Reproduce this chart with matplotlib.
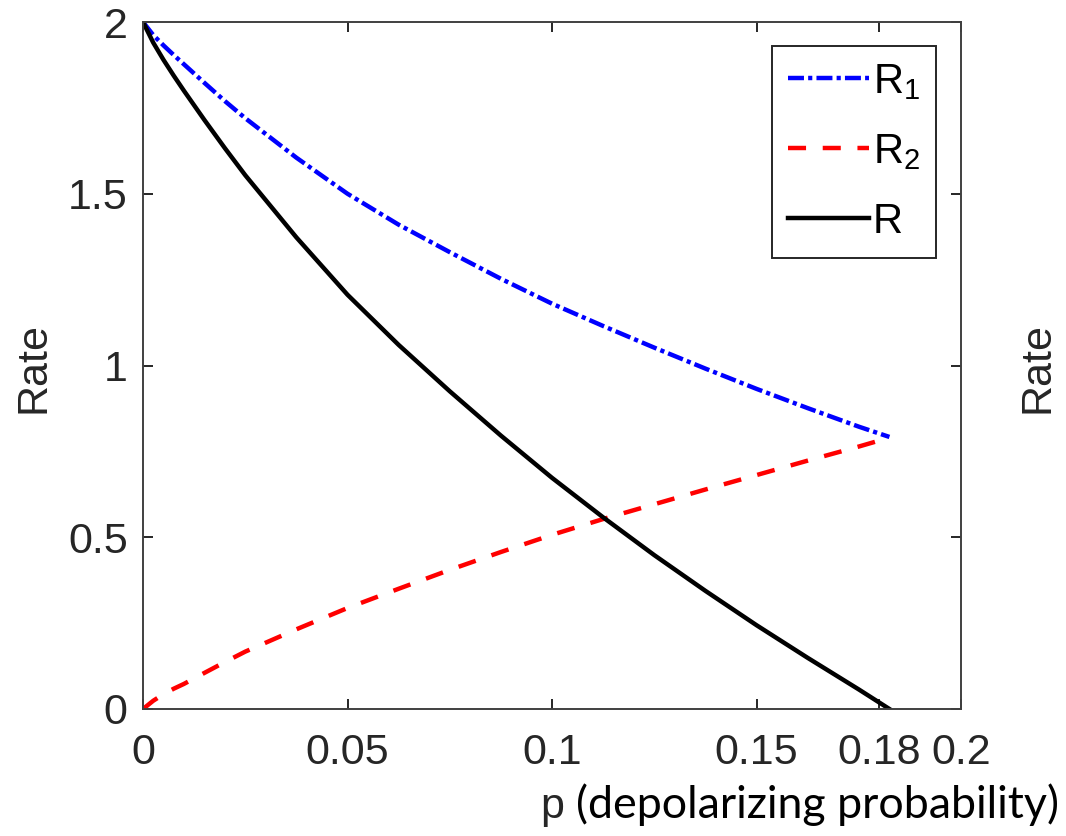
import matplotlib
matplotlib.use("Agg")
import matplotlib.pyplot as plt

plt.rcParams["font.family"] = "Liberation Sans"
plt.rcParams["font.size"] = 31
plt.rcParams["lines.scale_dashes"] = False
plt.rcParams["xtick.direction"] = "in"
plt.rcParams["ytick.direction"] = "in"
plt.rcParams["xtick.top"] = True
plt.rcParams["ytick.right"] = True
plt.rcParams["axes.linewidth"] = 1.4
plt.rcParams["axes.edgecolor"] = "#404040"

# Data
p = [0, 0.0025, 0.005, 0.0075, 0.01, 0.015, 0.02, 0.025, 0.0375, 0.05, 0.0625,
     0.075, 0.0875, 0.1, 0.1125, 0.125, 0.1375, 0.15, 0.1625, 0.175, 0.1825]
r1 = [2.0, 1.962, 1.932, 1.904, 1.877, 1.823, 1.77, 1.72, 1.605, 1.50, 1.41,
      1.33, 1.2525, 1.18, 1.115, 1.052, 0.991, 0.932, 0.876, 0.822, 0.792]
r2 = [0.0, 0.024, 0.043, 0.059, 0.073, 0.105, 0.1365, 0.167, 0.232, 0.294, 0.35,
      0.405, 0.457, 0.507, 0.553, 0.596, 0.639, 0.681, 0.723, 0.764, 0.79]
r = [2.0, 1.94, 1.89, 1.844, 1.80, 1.715, 1.633, 1.554, 1.373, 1.206, 1.06,
     0.925, 0.796, 0.673, 0.558, 0.448, 0.344, 0.244, 0.149, 0.057, 0.0]

x_ticks = [0, 0.05, 0.1, 0.15, 0.18, 0.2]
x_ticklabels = ["0", "0.05", "0.1", "0.15", "0.18", "0.2"]
y_ticks = [0, 0.5, 1, 1.5, 2]
y_ticklabels = ["0", "0.5", "1", "1.5", "2"]

W, H = 1066, 836
fig = plt.figure(figsize=(W / 100, H / 100), dpi=100)
ax = fig.add_axes([143 / W, 1 - 709 / H, (961 - 143) / W, (709 - 22) / H])

ax.plot(p, r1, color="blue", lw=3.2, dashes=(11.5, 3, 3, 3), label=r"$\mathregular{R_1}$")
ax.plot(p, r2, color="red", lw=3.2, dashes=(13, 12), label=r"$\mathregular{R_2}$")
ax.plot(p, r, color="black", lw=3.2, label="R")

ax.set_xlim(0, 0.2)
ax.set_ylim(0, 2)
ax.set_xticks(x_ticks)
ax.set_xticklabels(x_ticklabels)
ax.set_yticks(y_ticks)
ax.set_yticklabels(y_ticklabels)
ax.tick_params(axis="both", length=7, width=1.4, colors="#262626")
ax.tick_params(axis="x", pad=17)
ax.tick_params(axis="y", pad=11)

leg = ax.legend(loc="upper right", bbox_to_anchor=(936 / W, 1 - 46 / H),
                bbox_transform=fig.transFigure, borderaxespad=0,
                fancybox=False, framealpha=1, edgecolor="#262626",
                fontsize=30, handlelength=1.95, handletextpad=0.1,
                labelspacing=0.72, borderpad=0.38)
leg.get_frame().set_linewidth(1.4)

# axis labels
fig.text(34 / W, 1 - 367 / H, "Rate", rotation=90, ha="center", va="center",
         color="#262626")
fig.text(1038 / W, 1 - 367 / H, "Rate", rotation=90, ha="center", va="center",
         color="#262626")
fig.text(540 / W, 1 - 818 / H, "p", ha="left", va="baseline", color="#262626")
fig.text(576 / W, 1 - 818 / H, "(depolarizing probability)", ha="left",
         va="baseline", family="Lato", fontsize=32.2, color="black")

plt.savefig("out.png", dpi=100)
